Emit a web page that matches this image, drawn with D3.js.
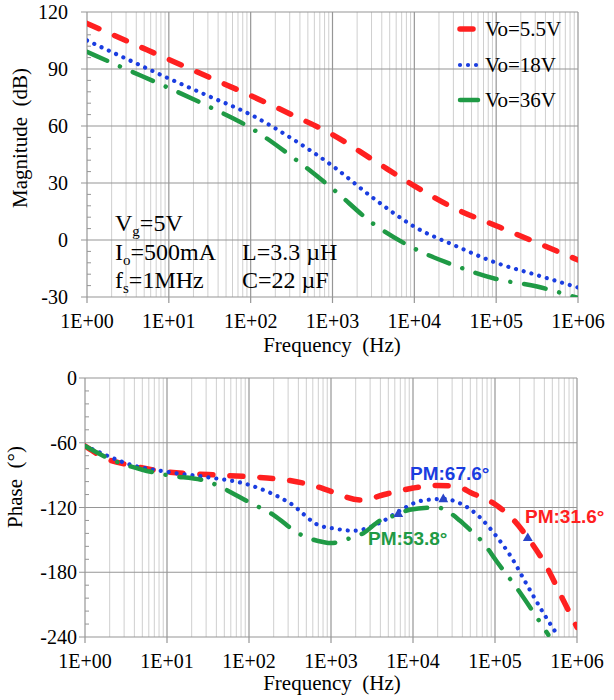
<!DOCTYPE html>
<html>
<head>
<meta charset="utf-8">
<script src="https://cdn.jsdelivr.net/npm/d3@7"></script>
<style>
  html, body { margin: 0; padding: 0; background: #fff; }
  svg { display: block; }
</style>
</head>
<body>
<div id="chart"></div>
<script>
// Magnitude data
const magFreq = [1, 3.16, 10, 31.6, 100, 316, 1000, 3162, 10000, 31623, 100000, 316228, 1000000];
const magVo55 = [114, 104.5, 95, 85.5, 76, 66, 55.5, 42, 28.5, 16.5, 7.5, -1.5, -10.5];
const magVo18 = [105, 95, 85, 75.5, 66, 53.5, 39, 22, 7, -3, -12, -18.5, -25];
const magVo36 = [99, 89.5, 80, 70, 59, 44, 27, 8.5, -4.5, -13.5, -20.5, -24.5, -30.5];

// Phase data
const phFreq55 = [1, 2, 3.16, 10, 31.6, 100, 316, 631, 1000, 2240, 5010, 10000, 19500, 36300, 50100, 100000, 166000, 251000, 427000, 661000, 1000000];
const phVo55 = [-63, -76, -80, -87, -89.5, -91.5, -95, -100, -105, -113, -107, -102, -99.5, -101, -106, -117, -131, -148, -175, -204, -231];
const phFreq18 = [1, 2, 3.16, 10, 31.6, 100, 316, 741, 1000, 1860, 3980, 6920, 12300, 23400, 37200, 63100, 100000, 158000, 251000, 398000, 575000];
const phVo18 = [-63, -73, -79, -87, -92, -99, -116, -137, -139, -141.5, -134, -123, -114, -112, -116, -128, -145, -166, -193, -219, -238];
const phFreq36 = [1, 2, 5, 10, 31.6, 45, 100, 200, 400, 800, 1000, 1700, 2450, 3980, 6610, 9120, 19500, 37200, 50100, 72400, 105000, 186000, 282000, 447000];
const phVo36 = [-63, -75, -85, -90, -96, -101, -115, -127, -144, -152, -153, -148.5, -144, -132, -126.5, -122, -120, -132, -141, -153, -170, -195, -215, -238];

// Phase margin markers
const pmFreq = [251000, 23400, 6610];
const pmPhase = [-148.4, -112.4, -126.2];
const pmLabel = ['PM:31.6°', 'PM:67.6°', 'PM:53.8°'];

const seriesNames = ['Vo=5.5V', 'Vo=18V', 'Vo=36V'];
const xTickLabels = ['1E+00', '1E+01', '1E+02', '1E+03', '1E+04', '1E+05', '1E+06'];
const magTicks = [120, 90, 60, 30, 0, -30];
const phTicks = [0, -60, -120, -180, -240];

const colors = ['#ff2020', '#1a3de0', '#1f9a45'];
const styles = [
  { width: 5.5, dash: '13,17', cap: 'round' },
  { width: 4.2, dash: '0.01,8', cap: 'round' },
  { width: 4.5, dash: '22,14,0.01,14', cap: 'round' }
];

const svg = d3.select('#chart').append('svg')
  .attr('width', 614)
  .attr('height', 700);
svg.append('rect').attr('width', 614).attr('height', 700).attr('fill', '#fff');

const serif = '"Liberation Serif", "Times New Roman", serif';
const sans = '"Liberation Sans", Arial, sans-serif';

function drawFrame(g, x, y, yTicks, minorStep, clipId) {
  const [x0, x1] = x.range();
  const [y0, y1] = y.range();
  // minor vertical grid
  const minors = [];
  for (let d = 0; d < 6; d++) {
    for (let m = 2; m <= 9; m++) minors.push(m * Math.pow(10, d));
  }
  g.selectAll('.minor-v').data(minors).enter().append('line')
    .attr('x1', d => x(d)).attr('x2', d => x(d))
    .attr('y1', y1).attr('y2', y0)
    .attr('stroke', '#cfcfcf').attr('stroke-width', 1);
  // major vertical grid
  const majors = d3.range(0, 7).map(d => Math.pow(10, d));
  g.selectAll('.major-v').data(majors).enter().append('line')
    .attr('x1', d => x(d)).attr('x2', d => x(d))
    .attr('y1', y1).attr('y2', y0 + 6)
    .attr('stroke', '#969696').attr('stroke-width', 1.2);
  // horizontal grid
  g.selectAll('.major-h').data(yTicks).enter().append('line')
    .attr('x1', x0 - 6).attr('x2', x1)
    .attr('y1', d => y(d)).attr('y2', d => y(d))
    .attr('stroke', '#969696').attr('stroke-width', 1.2);
  // minor y ticks
  const [lo, hi] = y.domain();
  const minorY = d3.range(lo, hi, minorStep).filter(v => !yTicks.includes(v));
  g.selectAll('.minor-t').data(minorY).enter().append('line')
    .attr('x1', x0).attr('x2', x0 + 4)
    .attr('y1', d => y(d)).attr('y2', d => y(d))
    .attr('stroke', '#969696').attr('stroke-width', 1);
  // x tick labels
  g.selectAll('.xl').data(majors).enter().append('text')
    .attr('x', d => x(d)).attr('y', y0 + 31)
    .attr('text-anchor', 'middle')
    .attr('font-family', serif).attr('font-size', 20)
    .text((d, i) => xTickLabels[i]);
  g.append('clipPath').attr('id', clipId).append('rect')
    .attr('x', x0).attr('y', y1 - 4).attr('width', x1 - x0).attr('height', y0 - y1 + 4);
}

function drawSeries(g, x, y, freqs, vals, i, clipId) {
  const line = d3.line()
    .x(d => x(d[0])).y(d => y(d[1]))
    .curve(d3.curveMonotoneX);
  g.append('path')
    .datum(freqs.map((f, k) => [f, vals[k]]))
    .attr('clip-path', `url(#${clipId})`)
    .attr('d', line)
    .attr('fill', 'none')
    .attr('stroke', colors[i])
    .attr('stroke-width', styles[i].width)
    .attr('stroke-dasharray', styles[i].dash)
    .attr('stroke-linecap', styles[i].cap);
}

// ---------- Magnitude chart ----------
const xm = d3.scaleLog().domain([1, 1e6]).range([87, 578]);
const ym = d3.scaleLinear().domain([-30, 120]).range([297, 12]);
const gm = svg.append('g');
drawFrame(gm, xm, ym, magTicks, 6, 'clipMag');

gm.selectAll('.yl').data(magTicks).enter().append('text')
  .attr('x', 68).attr('y', d => ym(d) + 7)
  .attr('text-anchor', 'end')
  .attr('font-family', serif).attr('font-size', 20)
  .text(d => d);

drawSeries(gm, xm, ym, magFreq, magVo55, 0, 'clipMag');
drawSeries(gm, xm, ym, magFreq, magVo18, 1, 'clipMag');
drawSeries(gm, xm, ym, magFreq, magVo36, 2, 'clipMag');

gm.append('text')
  .attr('transform', 'translate(27,138) rotate(-90)')
  .attr('text-anchor', 'middle')
  .attr('font-family', serif).attr('font-size', 21)
  .text('Magnitude\u00a0\u00a0(dB)');
gm.append('text')
  .attr('x', 332).attr('y', 352)
  .attr('text-anchor', 'middle')
  .attr('font-family', serif).attr('font-size', 21)
  .text('Frequency\u00a0\u00a0(Hz)');

// legend
const legendY = [29, 65, 100];
seriesNames.forEach((name, i) => {
  gm.append('line')
    .attr('x1', 460).attr('x2', 478)
    .attr('y1', legendY[i]).attr('y2', legendY[i])
    .attr('stroke', colors[i])
    .attr('stroke-width', styles[i].width)
    .attr('stroke-dasharray', styles[i].dash)
    .attr('stroke-linecap', styles[i].cap);
  gm.append('text')
    .attr('x', 485).attr('y', legendY[i] + 7)
    .attr('font-family', serif).attr('font-size', 21)
    .text(name);
});

// operating conditions
function condText(xp, yp, main, sub, rest) {
  const t = gm.append('text')
    .attr('x', xp).attr('y', yp)
    .attr('font-family', serif).attr('font-size', 24);
  t.append('tspan').text(main);
  if (sub) {
    t.append('tspan').attr('dy', 5).attr('font-size', 15).text(sub);
    t.append('tspan').attr('dy', -5).text(rest);
  }
}
condText(115, 231, 'V', 'g', '=5V');
condText(115, 260, 'I', 'o', '=500mA');
condText(115, 288, 'f', 's', '=1MHz');
condText(242, 260, 'L=3.3 µH');
condText(242, 288, 'C=22 µF');

// ---------- Phase chart ----------
const xp = d3.scaleLog().domain([1, 1e6]).range([85, 577]);
const yp = d3.scaleLinear().domain([-240, 0]).range([637, 378]);
const gp = svg.append('g');
drawFrame(gp, xp, yp, phTicks, 12, 'clipPh');

gp.selectAll('.yl').data(phTicks).enter().append('text')
  .attr('x', 77).attr('y', d => yp(d) + 7)
  .attr('text-anchor', 'end')
  .attr('font-family', serif).attr('font-size', 20)
  .text(d => d);

drawSeries(gp, xp, yp, phFreq55, phVo55, 0, 'clipPh');
drawSeries(gp, xp, yp, phFreq18, phVo18, 1, 'clipPh');
drawSeries(gp, xp, yp, phFreq36, phVo36, 2, 'clipPh');

// PM markers
const tri = d3.symbol().type(d3.symbolTriangle).size(42);
gp.selectAll('.pm').data(pmFreq).enter().append('path')
  .attr('d', tri)
  .attr('transform', (d, i) => `translate(${xp(d)},${yp(pmPhase[i])})`)
  .attr('fill', '#2a45c8');

const pmPos = [[525, 523], [410, 480], [368, 545]];
pmLabel.forEach((lab, i) => {
  gp.append('text')
    .attr('x', pmPos[i][0]).attr('y', pmPos[i][1])
    .attr('font-family', sans).attr('font-size', 19)
    .attr('font-weight', 'bold')
    .attr('fill', colors[i])
    .text(lab);
});

gp.append('text')
  .attr('transform', 'translate(22,487) rotate(-90)')
  .attr('text-anchor', 'middle')
  .attr('font-family', serif).attr('font-size', 21)
  .text('Phase\u00a0\u00a0(°)');
gp.append('text')
  .attr('x', 332).attr('y', 690)
  .attr('text-anchor', 'middle')
  .attr('font-family', serif).attr('font-size', 21)
  .text('Frequency\u00a0\u00a0(Hz)');
</script>
</body>
</html>
